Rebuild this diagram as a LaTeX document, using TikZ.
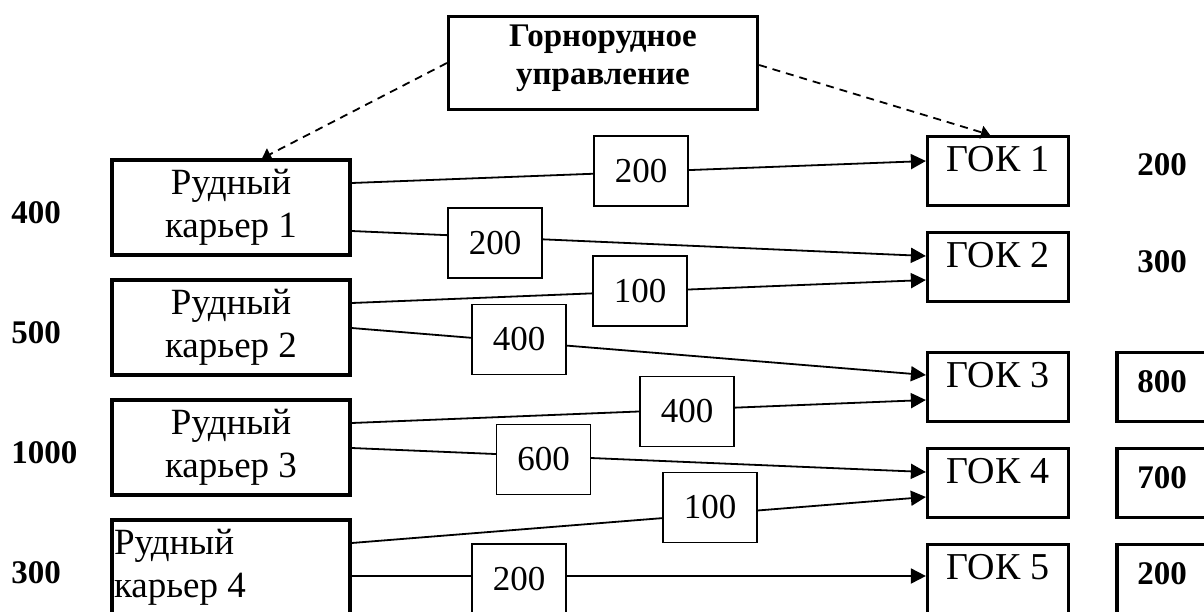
\documentclass[tikz,border=0pt]{standalone}
\usepackage{fontspec}
\setmainfont{Liberation Serif}
\usetikzlibrary{arrows.meta}
\begin{document}
\begin{tikzpicture}[x=0.5pt,y=-0.5pt,
  mine/.style={draw, line width=1.6pt, minimum width=119pt, minimum height=47.5pt,
    inner sep=0pt, align=center, font=\fontsize{18.5pt}{21.5pt}\selectfont},
  plant/.style={draw, line width=1.6pt, minimum width=70.5pt, minimum height=34.5pt,
    inner sep=0pt, text height=12pt, text depth=12pt, font=\fontsize{19pt}{21pt}\selectfont},
  qty/.style={draw, fill=white, line width=0.9pt, minimum width=47pt, minimum height=35pt,
    inner sep=0pt, font=\fontsize{17.5pt}{20pt}\selectfont},
  need/.style={draw, line width=1.6pt, minimum width=45pt, minimum height=34.5pt,
    inner sep=0pt, text depth=5pt, font=\bfseries\fontsize{16.5pt}{19pt}\selectfont},
  num/.style={inner sep=0pt, font=\bfseries\fontsize{16.5pt}{19pt}\selectfont},
  flow/.style={line width=0.9pt, -{Triangle[length=7.5pt,width=7.5pt]}},
  order/.style={line width=0.9pt, dash pattern=on 4pt off 3pt, -{Triangle[length=4.5pt,width=6.5pt]}},
]
\useasboundingbox (0,0) rectangle (1204,611);
\fill[white] (0,0) rectangle (1204,611);
\clip (0,0) rectangle (1204,611);

% head office
\node[draw, line width=1.6pt, minimum width=154.5pt, minimum height=46.5pt, align=center,
  inner sep=0pt, text depth=8pt,
  font=\bfseries\fontsize{16.5pt}{19pt}\selectfont] (hq) at (603,63) {Горнорудное\\управление};

% quarries
\node[mine] (k1) at (231,207.5) {Рудный\\карьер 1};
\node[mine] (k2) at (231,327.5) {Рудный\\карьер 2};
\node[mine] (k3) at (231,447.5) {Рудный\\карьер 3};
\node[mine, text width=117pt, align=flush left, inner xsep=1pt] (k4) at (231,567.5) {Рудный\\карьер 4};

% supplies
\node[num, anchor=base west] (s1) at (11,223) {400};
\node[num, anchor=base west] (s2) at (11,343) {500};
\node[num, anchor=base west] (s3) at (11,463) {1000};
\node[num, anchor=base west] (s4) at (11,583) {300};

% plants
\node[plant] (g1) at (998,171) {ГОК 1};
\node[plant] (g2) at (998,267) {ГОК 2};
\node[plant] (g3) at (998,387) {ГОК 3};
\node[plant] (g4) at (998,483) {ГОК 4};
\node[plant] (g5) at (998,579) {ГОК 5};

% demands
\node[num, anchor=base] (n1) at (1162,175) {200};
\node[num, anchor=base] (n2) at (1162,272) {300};
\node[need] (n3) at (1162,387) {800};
\node[need] (n4) at (1162,483) {700};
\node[need] (n5) at (1162,579) {200};

% management links
\draw[order] (hq.west |- 0,63) -- (k1.north -| 262,0);
\draw[order] (hq.east |- 0,65) -- (g1.north -| 990,0);

% shipments
\draw[flow] (k1.east |- 0,183) -- (g1.west |- 0,161);
\draw[flow] (k1.east |- 0,231) -- (g2.west |- 0,256);
\draw[flow] (k2.east |- 0,303) -- (g2.west |- 0,280);
\draw[flow] (k2.east |- 0,328) -- (g3.west |- 0,375);
\draw[flow] (k3.east |- 0,423) -- (g3.west |- 0,400);
\draw[flow] (k3.east |- 0,448) -- (g4.west |- 0,472);
\draw[flow] (k4.east |- 0,543) -- (g4.west |- 0,497);
\draw[flow] (k4.east |- 0,576) -- (g5.west |- 0,576);

% shipment volumes
\node[qty] (q1) at (641,171) {200};
\node[qty] (q2) at (495,243) {200};
\node[qty] (q3) at (640,291) {100};
\node[qty] (q4) at (519,339.5) {400};
\node[qty] (q5) at (687,411.5) {400};
\node[qty] (q6) at (543.5,459.5) {600};
\node[qty] (q7) at (710,507.5) {100};
\node[qty] (q8) at (519,579) {200};
\end{tikzpicture}
\end{document}
